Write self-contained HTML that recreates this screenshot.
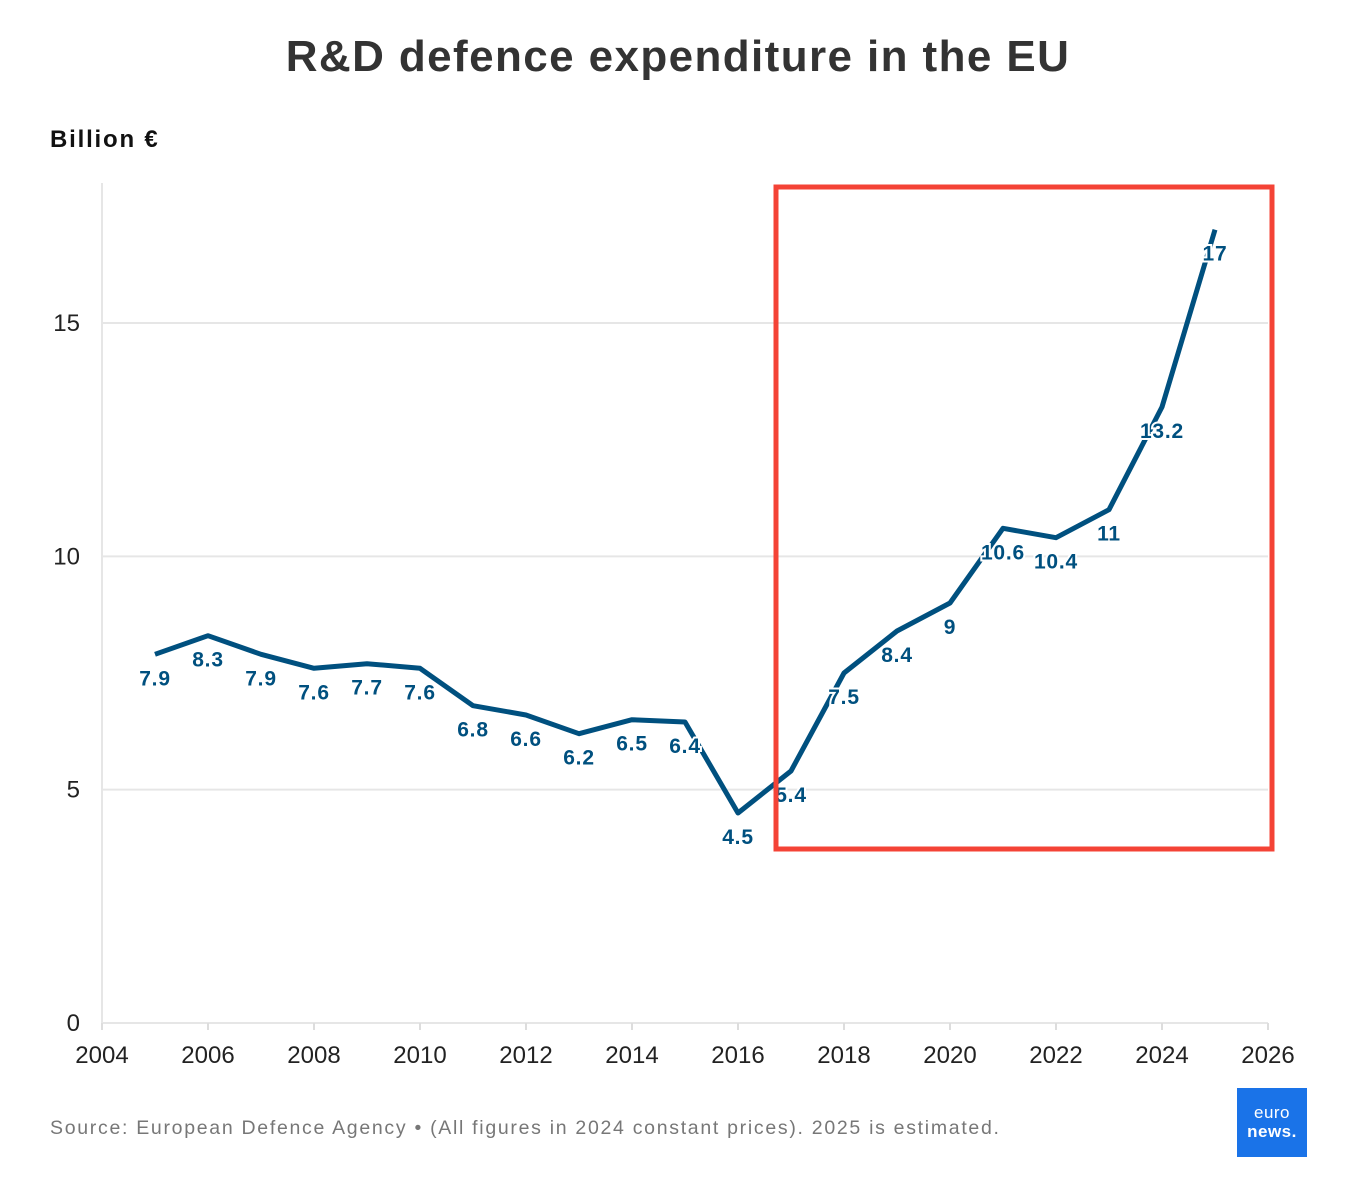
<!DOCTYPE html>
<html><head><meta charset="utf-8"><style>
body{margin:0;background:#fff;font-family:"Liberation Sans",sans-serif;}
#wrap{position:relative;width:1350px;height:1186px;}
</style></head><body>
<div id="wrap">
<svg id="chart" width="1350" height="1186">
<text x="678" y="71" text-anchor="middle" font-size="44" font-weight="bold" fill="#333" letter-spacing="1.4">R&amp;D defence expenditure in the EU</text>
<text x="50" y="147" font-size="24" font-weight="bold" fill="#111" letter-spacing="1.8">Billion €</text>
<g id="grid"></g><g id="axes"></g><g id="series"></g><g id="labels"></g>
<rect x="776" y="187" width="496" height="662" fill="none" stroke="#f44336" stroke-width="5"/>
<text x="50" y="1134" font-size="19.5" fill="#777" letter-spacing="1.7">Source: European Defence Agency • (All figures in 2024 constant prices). 2025 is estimated.</text>
<rect x="1237" y="1088" width="70" height="69" fill="#1a73e8"/>
<text x="1272" y="1118" text-anchor="middle" font-size="17" fill="#fff" letter-spacing="0.5">euro</text>
<text x="1272" y="1137" text-anchor="middle" font-size="17" font-weight="bold" fill="#fff" letter-spacing="0.5">news.</text>
</svg>
</div>
<script>
const years=[2005,2006,2007,2008,2009,2010,2011,2012,2013,2014,2015,2016,2017,2018,2019,2020,2021,2022,2023,2024,2025];
const values=[7.9,8.3,7.9,7.6,7.7,7.6,6.8,6.6,6.2,6.5,6.45,4.5,5.4,7.5,8.4,9,10.6,10.4,11,13.2,17];
const labelsTxt=["7.9","8.3","7.9","7.6","7.7","7.6","6.8","6.6","6.2","6.5","6.4","4.5","5.4","7.5","8.4","9","10.6","10.4","11","13.2","17"];
const yTicks=[0,5,10,15];
const xTicks=[2004,2006,2008,2010,2012,2014,2016,2018,2020,2022,2024,2026];
const NS="http://www.w3.org/2000/svg";
const x=v=>102+(v-2004)*(1166/22);
const y=v=>1023-v*(1023-323)/15;
function mk(tag,attrs,parent,txt){const e=document.createElementNS(NS,tag);for(const k in attrs)e.setAttribute(k,attrs[k]);if(txt!==undefined)e.textContent=txt;document.getElementById(parent).appendChild(e);return e;}
yTicks.forEach(t=>{
 if(t>0){const l=mk('line',{x1:102,x2:1268,y1:y(t),y2:y(t),stroke:'#e6e6e6','stroke-width':2},'grid');
 
 }
 const tx=mk('text',{x:80,y:y(t)+8,'text-anchor':'end','font-size':24,fill:'#222'},'axes',String(t));
 
 
});
const ya=mk('line',{x1:102,x2:102,y1:183,y2:1023,stroke:'#e6e6e6','stroke-width':2},'axes');


const xa=mk('line',{x1:102,x2:1268,y1:1023,y2:1023,stroke:'#e6e6e6','stroke-width':2},'axes');


xTicks.forEach(t=>{
 const tk=mk('line',{x1:x(t),x2:x(t),y1:1023,y2:1030,stroke:'#ddd','stroke-width':2},'axes');
 
 
 const tx=mk('text',{x:x(t),y:1063,'text-anchor':'middle','font-size':24,fill:'#222'},'axes',String(t));
 
 
});
const d=years.map((yr,i)=>(i?'L':'M')+x(yr).toFixed(1)+','+y(values[i]).toFixed(1)).join(' ');
const p=mk('path',{d:d,fill:'none',stroke:'#00507f','stroke-width':5,'stroke-linejoin':'round'},'series');


years.forEach((yr,i)=>{
 const t=mk('text',{x:x(yr),y:y(values[i])+31,'text-anchor':'middle','font-size':21,'font-weight':'bold','letter-spacing':0.8,fill:'#00507f',stroke:'#fff','stroke-width':4,'paint-order':'stroke'},'labels',labelsTxt[i]);
 
 
});
</script>
</body></html>
